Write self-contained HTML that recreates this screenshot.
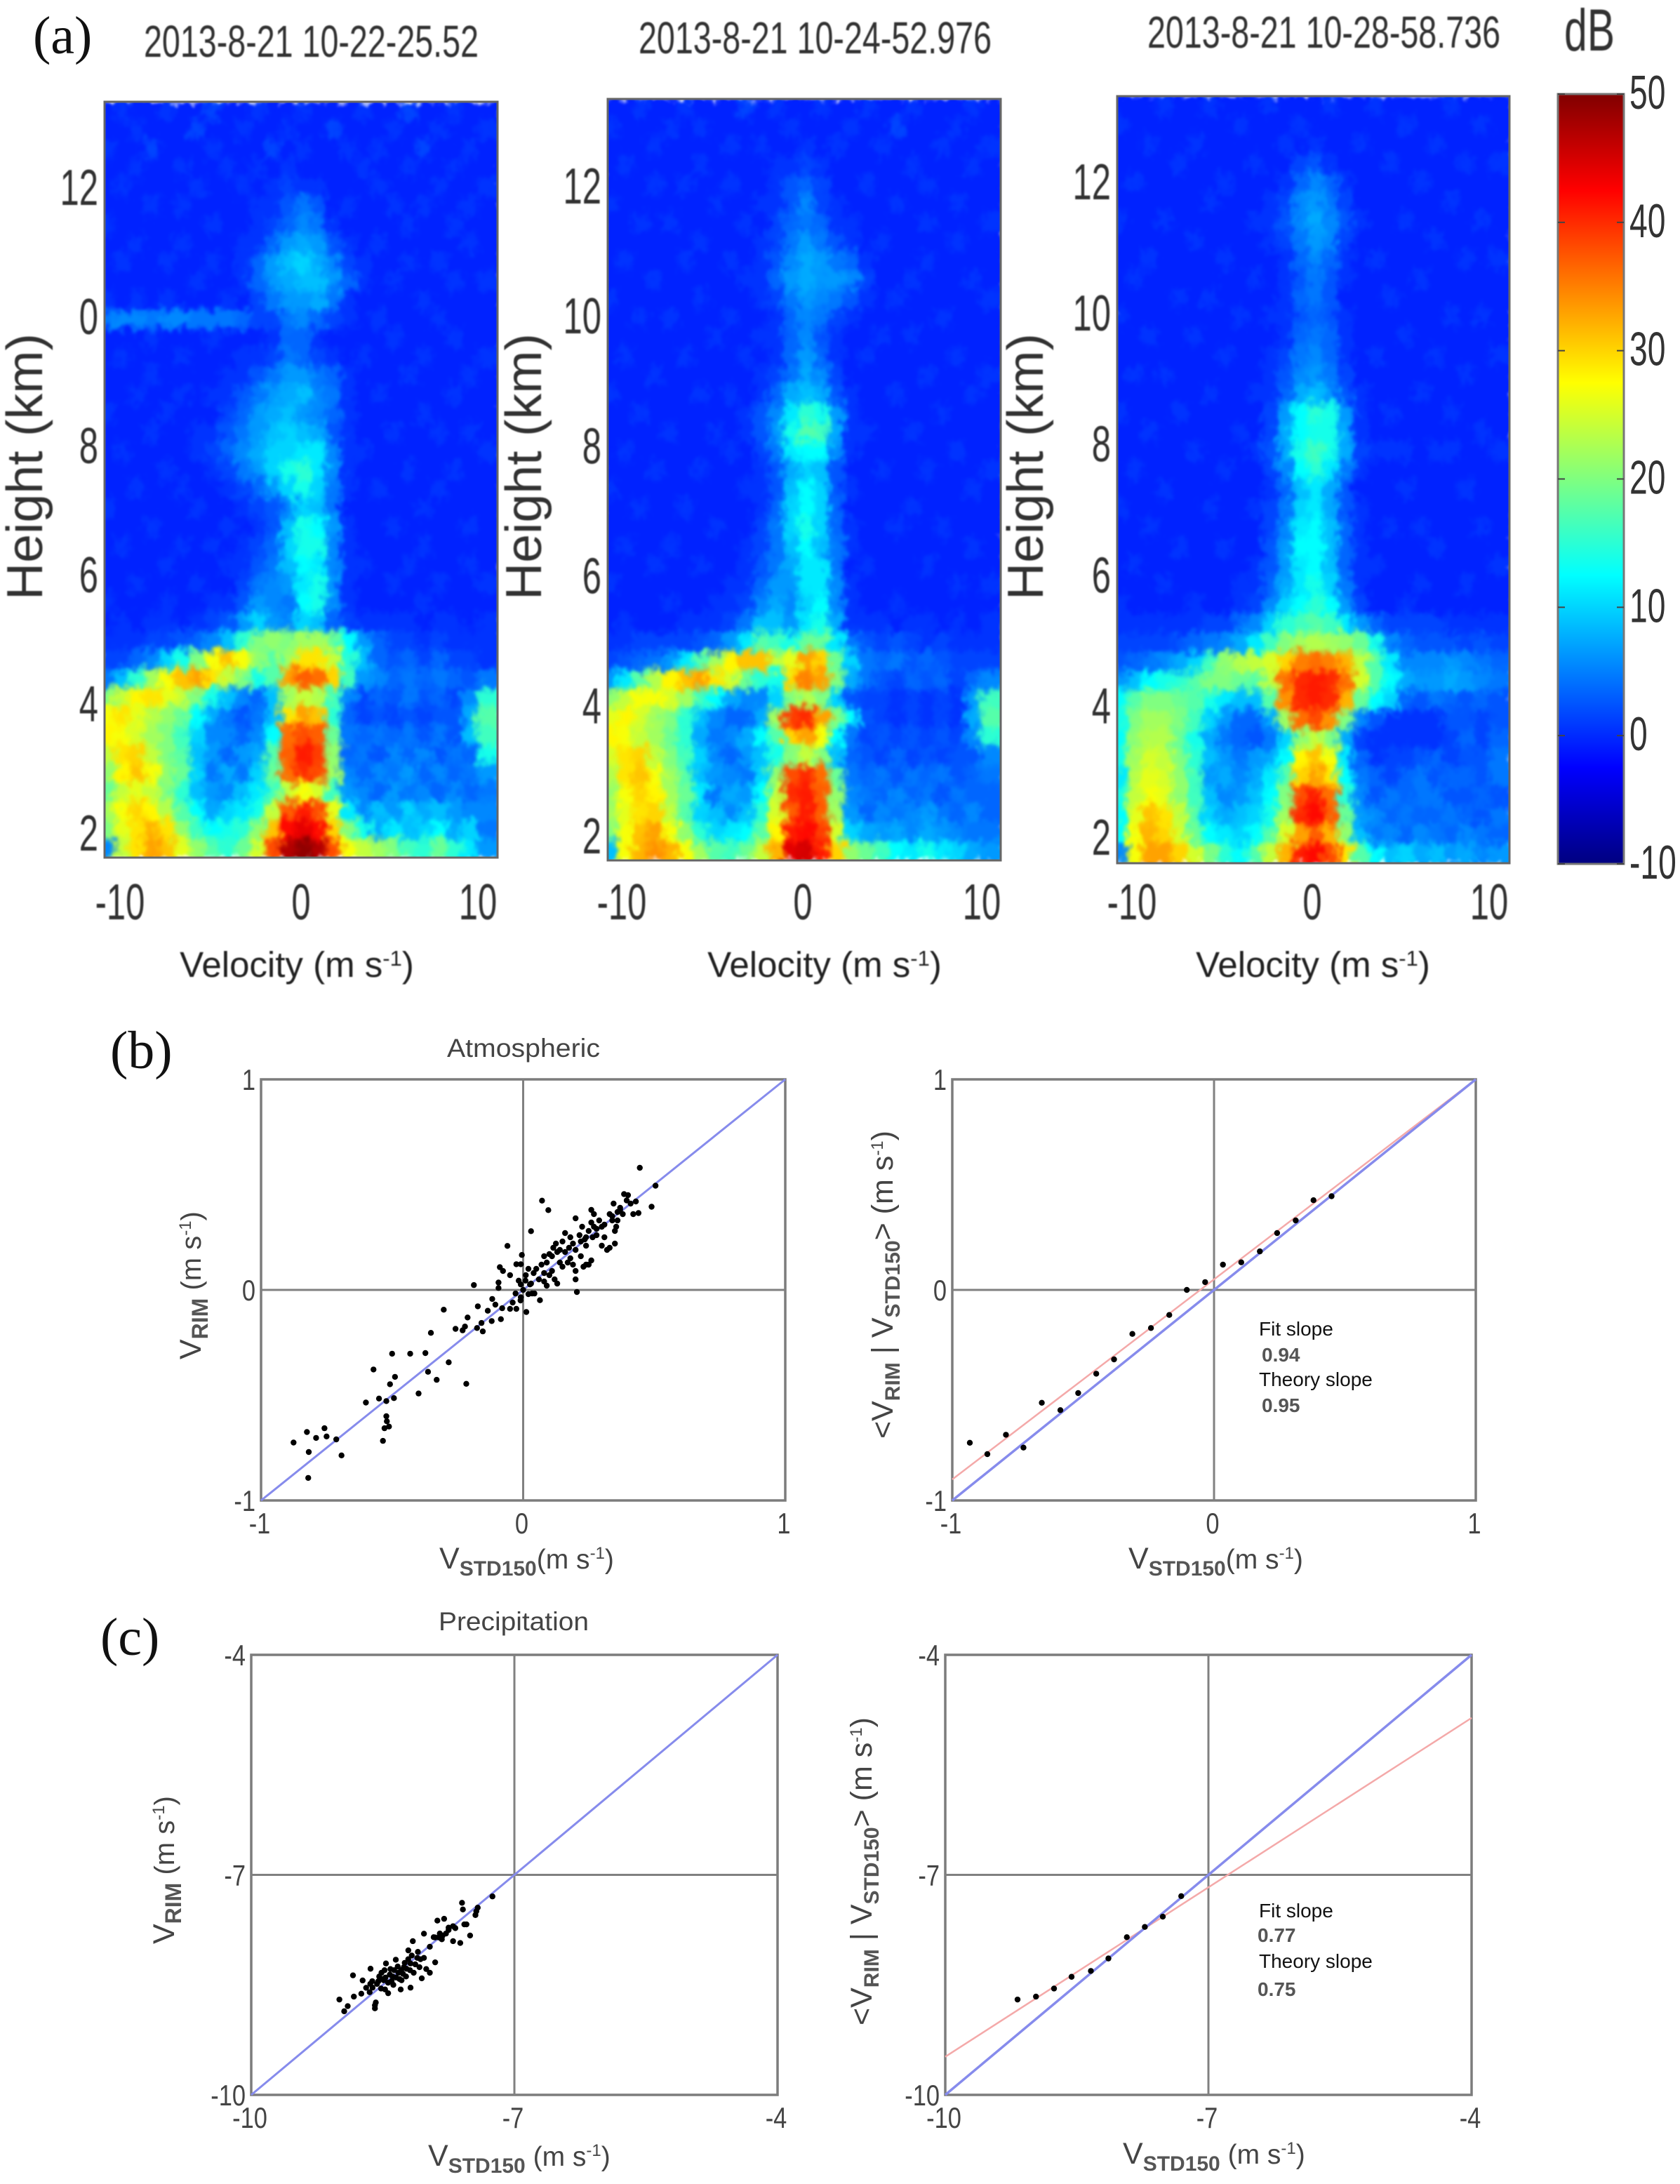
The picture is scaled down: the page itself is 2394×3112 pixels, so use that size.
<!DOCTYPE html>
<html lang="en">
<head>
<meta charset="utf-8">
<title>Radar spectra and velocity comparison</title>
<style>
html,body{margin:0;padding:0;background:#fff;}
svg{display:block;font-family:"Liberation Sans",sans-serif;}
</style>
</head>
<body>
<svg id="fig" xmlns="http://www.w3.org/2000/svg" width="2394" height="3112" viewBox="0 0 2394 3112">
  <defs>
    <filter id="soft" x="-5%" y="-5%" width="110%" height="110%" color-interpolation-filters="sRGB">
      <feGaussianBlur in="SourceGraphic" stdDeviation="4" result="b"/>
      <feTurbulence type="fractalNoise" baseFrequency="0.085 0.07" numOctaves="2" seed="7" result="n"/>
      <feDisplacementMap in="b" in2="n" scale="26" xChannelSelector="R" yChannelSelector="G" result="d"/>
      <feGaussianBlur in="d" stdDeviation="1.6"/>
    </filter>
    <filter id="textSoft" x="-5%" y="-20%" width="110%" height="140%"><feGaussianBlur stdDeviation="0.9"/></filter>
    <linearGradient id="jetGrad" x1="0" y1="1" x2="0" y2="0">
      <stop offset="0" stop-color="#000080"/>
      <stop offset="0.125" stop-color="#0000ff"/>
      <stop offset="0.375" stop-color="#00ffff"/>
      <stop offset="0.625" stop-color="#ffff00"/>
      <stop offset="0.875" stop-color="#ff0000"/>
      <stop offset="1" stop-color="#800000"/>
    </linearGradient>
  </defs>
  <rect width="2394" height="3112" fill="#fff"/>

  <g font-family="'Liberation Serif',serif" font-size="76" fill="#111">
    <text x="47" y="76">(a)</text>
    <text x="157" y="1522">(b)</text>
    <text x="143" y="2358">(c)</text>
  </g>

  <g filter="url(#textSoft)" fill="#333" font-size="64">
    <text x="205" y="81" textLength="477" lengthAdjust="spacingAndGlyphs">2013-8-21 10-22-25.52</text>
    <text x="910" y="76" textLength="503" lengthAdjust="spacingAndGlyphs">2013-8-21 10-24-52.976</text>
    <text x="1635" y="68" textLength="503" lengthAdjust="spacingAndGlyphs">2013-8-21 10-28-58.736</text>
    <text x="2229" y="72" font-size="84" textLength="72" lengthAdjust="spacingAndGlyphs">dB</text>
    <g font-size="72">
      <text transform="translate(60,855) rotate(-90)" textLength="380" lengthAdjust="spacingAndGlyphs">Height (km)</text>
      <text transform="translate(771,855) rotate(-90)" textLength="380" lengthAdjust="spacingAndGlyphs">Height (km)</text>
      <text transform="translate(1486,855) rotate(-90)" textLength="380" lengthAdjust="spacingAndGlyphs">Height (km)</text>
    </g>
    <g font-size="51" text-anchor="middle" fill="#222">
      <text x="423" y="1392">Velocity (m s<tspan dy="-16" font-size="31">-1</tspan><tspan dy="16">)</tspan></text>
      <text x="1175" y="1392">Velocity (m s<tspan dy="-16" font-size="31">-1</tspan><tspan dy="16">)</tspan></text>
      <text x="1871" y="1392">Velocity (m s<tspan dy="-16" font-size="31">-1</tspan><tspan dy="16">)</tspan></text>
    </g>
  </g>

  <rect x="2220" y="134" width="94" height="1097" fill="url(#jetGrad)" stroke="#777" stroke-width="3"/>

  <g id="heatmaps"></g>
  <g id="colorbarTicks"></g>
  <g id="scatters"></g>

  <g fill="#444">
    <text x="746" y="1506" font-size="37" text-anchor="middle" textLength="218" lengthAdjust="spacingAndGlyphs">Atmospheric</text>
    <text x="732" y="2323" font-size="37" text-anchor="middle" textLength="214" lengthAdjust="spacingAndGlyphs">Precipitation</text>

    <text x="626" y="2235" font-size="43">V<tspan font-size="30" dy="10" font-weight="bold" fill="#555">STD150</tspan><tspan font-size="39" dy="-10">(m s</tspan><tspan font-size="24" dy="-14">-1</tspan><tspan font-size="39" dy="14">)</tspan></text>
    <text x="1608" y="2235" font-size="43">V<tspan font-size="30" dy="10" font-weight="bold" fill="#555">STD150</tspan><tspan font-size="39" dy="-10">(m s</tspan><tspan font-size="24" dy="-14">-1</tspan><tspan font-size="39" dy="14">)</tspan></text>
    <text x="610" y="3086" font-size="43">V<tspan font-size="30" dy="10" font-weight="bold" fill="#555">STD150</tspan><tspan font-size="39" dy="-10"> (m s</tspan><tspan font-size="24" dy="-14">-1</tspan><tspan font-size="39" dy="14">)</tspan></text>
    <text x="1600" y="3083" font-size="43">V<tspan font-size="30" dy="10" font-weight="bold" fill="#555">STD150</tspan><tspan font-size="39" dy="-10"> (m s</tspan><tspan font-size="24" dy="-14">-1</tspan><tspan font-size="39" dy="14">)</tspan></text>

    <text transform="translate(286,1937) rotate(-90)" font-size="43">V<tspan font-size="32" dy="10" font-weight="bold" fill="#555">RIM</tspan><tspan font-size="40" dy="-10"> (m s</tspan><tspan font-size="24" dy="-14">-1</tspan><tspan font-size="40" dy="14">)</tspan></text>
    <text transform="translate(1272,2050) rotate(-90)" font-size="43">&lt;V<tspan font-size="30" dy="10" font-weight="bold" fill="#555">RIM</tspan><tspan dy="-10"> | V</tspan><tspan font-size="30" dy="10" font-weight="bold" fill="#555">STD150</tspan><tspan dy="-10">&gt; (m s</tspan><tspan font-size="24" dy="-14">-1</tspan><tspan dy="14">)</tspan></text>
    <text transform="translate(248,2770) rotate(-90)" font-size="43">V<tspan font-size="32" dy="10" font-weight="bold" fill="#555">RIM</tspan><tspan font-size="40" dy="-10">  (m s</tspan><tspan font-size="24" dy="-14">-1</tspan><tspan font-size="40" dy="14">)</tspan></text>
    <text transform="translate(1242,2886) rotate(-90)" font-size="43">&lt;V<tspan font-size="30" dy="10" font-weight="bold" fill="#555">RIM</tspan><tspan dy="-10"> | V</tspan><tspan font-size="30" dy="10" font-weight="bold" fill="#555">STD150</tspan><tspan dy="-10">&gt; (m s</tspan><tspan font-size="24" dy="-14">-1</tspan><tspan dy="14">)</tspan></text>

    <g font-size="28">
      <text x="1794" y="1903" fill="#111">Fit slope</text>
      <text x="1798" y="1940" fill="#555" font-weight="bold">0.94</text>
      <text x="1794" y="1975" fill="#111">Theory slope</text>
      <text x="1798" y="2012" fill="#555" font-weight="bold">0.95</text>
      <text x="1794" y="2732" fill="#111">Fit slope</text>
      <text x="1792" y="2767" fill="#555" font-weight="bold">0.77</text>
      <text x="1794" y="2804" fill="#111">Theory slope</text>
      <text x="1792" y="2844" fill="#555" font-weight="bold">0.75</text>
    </g>
  </g>
</svg>

<script>
const velocityTicks = [-10, 0, 10];
const heightTicks = [12, 10, 8, 6, 4, 2];
const heightTickLabels1 = ['12', '0', '8', '6', '4', '2'];
const heightTickLabels2 = ['12', '10', '8', '6', '4', '2'];
const colorbarTicks = [50, 40, 30, 20, 10, 0, -10];

const spectrum1 = [
[2,3,2,2,3,2,2,4,2,2,3,2,2,3,2,2,2,3,2,2,4,2,2,3,2,2],
[2,2,3,2,2,2,4,2,2,3,2,2,3,2,2,4,2,2,2,3,2,2,3,2,2,3],
[3,2,2,4,2,2,2,3,2,2,2,4,2,3,2,2,3,2,3,2,2,4,2,2,3,2],
[2,2,3,2,2,3,2,2,3,2,3,2,3,2,2,2,2,3,2,2,3,2,2,3,2,2],
[2,3,2,2,2,2,3,2,2,3,2,3,4,3,3,2,2,2,3,2,2,2,3,2,2,3],
[2,2,2,3,2,3,2,2,2,2,3,3,5,7,5,2,3,2,2,3,2,3,2,2,3,2],
[3,2,2,2,2,2,2,3,2,2,3,4,6,8,7,3,2,2,2,2,3,2,2,3,2,2],
[2,2,3,2,2,3,2,2,2,3,3,6,9,10,9,5,3,2,3,2,2,2,2,2,3,2],
[2,3,2,2,3,2,2,3,2,3,6,9,11,12,10,8,4,3,2,2,3,2,3,2,2,2],
[2,2,2,2,2,2,3,2,2,3,6,9,10,11,11,9,6,3,2,3,2,2,2,3,2,3],
[3,2,3,2,3,2,2,2,3,2,4,7,9,9,10,7,3,2,2,2,2,3,2,2,2,2],
[7,8,8,7,8,8,7,7,7,6,4,4,7,8,6,4,3,2,3,2,2,2,3,2,2,2],
[2,2,2,3,2,2,2,3,2,2,2,3,6,6,3,2,2,2,2,3,2,2,2,3,2,2],
[2,3,2,2,2,3,2,2,2,3,3,4,7,6,4,3,2,3,2,2,2,3,2,2,2,3],
[2,2,2,3,2,2,2,2,3,3,5,7,9,9,7,6,3,2,2,2,3,2,2,2,3,2],
[2,2,3,2,2,3,2,3,3,5,7,9,10,11,8,7,3,2,3,2,2,2,2,3,2,2],
[3,2,2,2,3,2,2,2,4,6,9,10,11,9,8,6,3,2,2,2,2,3,2,2,2,2],
[2,2,2,3,2,2,3,3,5,7,9,11,12,11,10,5,3,2,2,3,2,2,3,2,3,2],
[2,3,2,2,2,2,3,4,6,8,10,12,12,13,13,8,3,3,2,2,2,2,2,2,2,3],
[2,2,2,2,3,2,2,3,4,7,9,12,15,16,13,8,3,2,2,2,3,2,2,3,2,2],
[2,2,3,2,2,3,2,2,3,4,6,9,12,15,12,7,3,2,3,2,2,2,3,2,2,2],
[3,2,2,2,2,2,3,2,2,3,4,5,8,12,11,7,2,2,2,2,2,3,2,2,2,2],
[2,2,2,3,2,2,2,2,3,2,3,5,11,15,14,9,3,2,2,3,2,2,2,2,3,2],
[2,3,2,2,2,3,2,3,2,3,4,6,12,15,15,8,3,2,2,2,2,3,2,2,2,2],
[2,2,2,2,3,2,2,2,3,3,5,7,11,14,13,8,3,3,2,2,3,2,2,2,3,2],
[2,2,3,2,2,2,3,2,2,4,7,8,9,13,15,9,3,2,2,3,2,2,3,2,2,3],
[3,2,2,2,3,2,2,3,3,5,9,8,7,14,15,8,3,2,2,2,2,3,2,2,2,2],
[2,3,2,3,3,2,3,4,5,9,12,9,8,12,11,6,4,3,3,3,3,2,3,3,2,3],
[3,3,3,4,4,5,6,8,11,16,20,21,20,22,22,19,14,9,6,4,4,3,4,3,3,3],
[4,4,6,8,12,15,20,27,31,27,21,18,22,29,29,24,16,11,6,5,6,4,6,4,4,3],
[7,11,16,22,27,31,33,29,24,20,15,18,33,37,36,30,17,9,8,6,7,6,7,6,5,7],
[20,24,28,29,26,24,20,15,11,8,6,11,22,24,23,17,8,4,6,5,7,5,6,4,8,16],
[27,29,26,23,21,19,14,10,7,5,7,11,29,33,31,16,6,4,5,4,5,4,5,5,10,18],
[28,27,25,22,20,17,12,8,8,6,8,14,36,38,37,19,7,6,7,6,7,5,7,5,11,17],
[24,29,30,24,20,18,11,9,6,9,10,18,37,41,39,21,6,7,5,8,6,8,5,7,6,15],
[21,28,31,27,21,19,12,7,10,7,12,19,36,40,38,22,8,6,8,7,9,6,8,6,7,9],
[19,24,26,24,20,16,11,9,8,11,13,17,24,27,25,17,9,8,6,9,7,8,6,8,6,7],
[22,27,30,28,23,18,14,10,12,13,15,24,37,41,38,26,13,8,11,9,12,10,11,9,8,8],
[20,26,29,32,29,21,17,14,15,16,21,31,42,44,42,30,20,15,10,13,11,12,14,10,12,7],
[8,24,29,33,31,26,21,18,16,19,25,38,47,49,47,38,27,24,22,20,17,16,19,16,13,9]
];

const spectrum2 = [
[2,2,3,2,2,3,2,2,2,4,2,3,2,2,3,2,2,3,2,2,3,2,2,2,3,2],
[3,2,2,2,3,2,3,2,2,2,2,2,3,2,2,2,3,2,2,4,2,2,2,3,2,2],
[2,2,2,3,2,2,2,2,3,2,3,2,2,3,2,3,2,2,3,2,2,2,3,2,2,3],
[2,3,2,2,2,2,3,2,2,2,2,3,3,4,3,2,2,2,2,2,3,2,2,2,3,2],
[2,2,2,3,2,3,2,2,3,2,2,3,5,6,4,2,2,3,2,2,2,3,2,2,2,2],
[3,2,2,2,2,2,2,3,2,2,3,3,5,8,4,3,2,2,2,3,2,2,2,3,2,2],
[2,2,3,2,3,2,2,2,2,3,2,4,6,7,6,3,3,2,2,2,2,3,2,2,2,3],
[2,2,2,2,2,2,3,2,2,2,3,4,7,9,7,5,3,2,3,2,2,2,2,3,2,2],
[2,3,2,2,2,3,2,2,3,2,3,5,8,10,9,7,6,3,2,2,2,3,2,2,2,2],
[2,2,2,3,2,2,2,2,2,3,3,6,9,10,9,9,8,4,2,2,3,2,2,2,3,2],
[3,2,2,2,2,2,3,2,2,2,3,4,7,9,8,7,5,3,2,3,2,2,2,2,2,3],
[2,2,3,2,3,2,2,2,3,2,2,3,6,8,7,4,3,2,2,2,2,2,3,2,2,2],
[2,2,2,2,2,2,2,3,2,2,3,3,6,8,5,3,2,2,3,2,3,2,2,2,2,2],
[2,3,2,2,2,3,2,2,2,3,2,3,6,9,6,3,2,3,2,2,2,2,2,3,2,2],
[2,2,2,3,2,2,2,2,2,2,3,4,7,10,8,4,2,2,2,2,2,3,2,2,2,3],
[3,2,2,2,2,2,3,2,3,2,3,6,10,11,10,5,3,2,2,3,2,2,2,2,3,2],
[2,2,3,2,2,2,2,2,2,3,5,8,13,16,15,9,3,2,2,2,2,2,3,2,2,2],
[2,2,2,2,3,2,2,3,2,3,5,9,15,18,17,10,3,3,2,2,3,2,2,2,2,2],
[2,3,2,2,2,2,2,2,3,2,4,7,13,14,14,8,3,2,2,2,2,2,2,3,2,2],
[2,2,2,3,2,2,3,2,2,2,3,5,10,12,11,5,2,2,3,2,2,3,2,2,2,3],
[3,2,2,2,2,2,2,2,2,3,3,5,11,14,12,5,3,2,2,2,2,2,2,2,3,2],
[2,2,3,2,2,3,2,2,2,2,3,6,12,14,12,6,2,2,2,2,3,2,2,2,2,2],
[2,2,2,2,2,2,2,3,2,2,4,7,12,15,12,6,3,2,2,3,2,2,3,2,2,2],
[2,3,2,2,3,2,2,2,2,3,4,7,11,14,11,7,3,2,2,2,2,2,2,2,3,2],
[2,2,2,3,2,2,3,2,2,3,5,7,10,13,13,7,2,3,2,2,2,3,2,2,2,2],
[3,2,2,2,2,2,2,2,3,3,6,9,9,13,13,8,3,2,2,2,2,2,2,3,2,3],
[2,2,2,2,3,2,2,3,3,4,8,10,8,12,14,8,3,2,2,3,2,2,2,2,2,2],
[2,3,2,2,2,3,3,3,4,7,11,11,9,13,15,10,3,3,3,2,3,3,2,3,2,3],
[3,3,4,4,4,4,5,6,9,13,18,17,15,19,19,13,7,5,4,5,4,3,4,3,3,3],
[4,5,6,7,9,13,18,22,28,31,31,24,26,33,30,19,12,7,6,7,5,6,5,4,4,4],
[9,13,18,23,28,31,33,29,25,19,16,15,30,35,33,20,10,7,5,4,6,5,6,4,6,8],
[21,24,27,27,25,22,17,14,10,8,8,12,20,23,20,12,5,4,4,3,4,3,4,3,9,17],
[26,28,25,22,20,16,11,8,6,6,10,22,39,40,33,20,14,5,4,3,4,3,4,3,10,18],
[28,27,24,22,19,16,10,7,8,10,14,18,30,33,27,14,7,4,5,4,5,4,5,4,8,16],
[25,29,30,24,20,17,12,8,6,9,11,15,20,24,20,11,6,5,4,6,4,5,4,5,5,8],
[23,29,31,27,22,18,11,9,8,7,12,21,38,40,36,19,7,6,7,5,7,6,7,5,6,7],
[21,27,30,28,22,19,13,7,10,9,14,24,40,41,37,21,8,7,6,8,6,7,5,7,6,6],
[22,26,29,30,24,18,12,11,8,11,16,25,37,41,37,22,9,6,8,7,8,9,7,6,8,6],
[20,27,31,33,27,21,16,12,13,14,18,28,41,42,39,25,12,10,9,10,8,10,9,8,7,7],
[11,27,32,34,32,27,22,18,17,19,24,32,44,45,41,30,21,19,17,14,13,15,13,12,10,9]
];

const spectrum3 = [
[2,2,2,3,2,2,3,2,2,2,3,2,2,2,3,2,2,3,2,2,2,2,3,2,2,2],
[3,2,2,2,2,2,2,2,3,2,2,2,3,2,2,2,2,2,2,3,2,2,2,2,3,2],
[2,2,3,2,2,3,2,2,2,2,2,3,2,3,2,2,3,2,2,2,2,3,2,2,2,2],
[2,2,2,2,3,2,2,2,2,3,2,2,4,5,3,2,2,2,3,2,2,2,2,3,2,3],
[2,3,2,2,2,2,2,3,2,2,2,3,6,8,6,3,2,2,2,2,3,2,2,2,2,2],
[2,2,2,2,2,2,3,2,2,2,3,4,8,9,7,4,2,2,2,2,2,2,3,2,2,2],
[3,2,2,3,2,2,2,2,2,3,3,5,8,10,8,5,3,2,2,3,2,2,2,2,3,2],
[2,2,2,2,2,3,2,2,2,2,3,4,7,9,8,4,2,2,2,2,2,3,2,2,2,2],
[2,2,3,2,2,2,2,3,2,2,2,3,6,8,6,3,2,3,2,2,2,2,2,3,2,3],
[2,3,2,2,2,2,2,2,2,3,2,3,5,7,5,3,2,2,2,2,3,2,2,2,2,2],
[2,2,2,2,3,2,3,2,2,2,2,3,6,7,5,2,2,2,3,2,2,2,2,2,2,2],
[3,2,2,2,2,2,2,2,3,2,3,3,5,6,5,3,2,2,2,2,2,2,3,2,3,2],
[2,2,3,2,2,3,2,2,2,2,2,3,6,7,6,3,2,2,2,3,2,2,2,2,2,2],
[2,2,2,2,2,2,2,3,2,2,3,4,7,8,6,3,2,3,2,2,2,3,2,2,2,3],
[2,3,2,3,2,2,2,2,2,2,3,5,8,9,7,4,2,2,2,2,2,2,2,3,2,2],
[2,2,2,2,2,2,3,2,2,3,3,6,10,11,9,5,3,2,2,2,3,2,2,2,2,2],
[3,2,2,2,3,2,2,2,2,2,4,9,14,16,15,9,3,2,3,2,2,2,3,2,2,2],
[2,2,3,2,2,2,2,2,3,2,4,10,14,15,15,10,3,2,2,2,2,2,2,2,3,2],
[2,2,2,2,2,3,2,2,2,3,5,10,15,17,15,10,4,3,3,3,2,3,3,2,2,3],
[2,3,2,2,2,2,2,3,2,2,4,8,14,16,13,7,3,2,2,2,2,2,2,2,2,2],
[2,2,2,3,2,2,2,2,2,2,3,6,11,13,10,5,2,2,2,3,2,2,2,3,2,2],
[3,2,2,2,2,2,3,2,2,3,4,7,12,13,10,5,3,2,2,2,2,2,2,2,2,2],
[2,2,3,2,2,2,2,2,2,2,4,8,13,14,11,6,3,2,3,2,3,2,2,2,3,2],
[2,2,2,2,3,2,2,3,2,2,5,9,14,14,11,6,3,2,2,2,2,3,2,2,2,2],
[2,3,2,2,2,2,2,2,2,3,5,9,13,14,11,6,3,3,2,2,2,2,2,2,2,3],
[2,2,2,3,2,2,2,2,3,3,6,10,13,15,12,7,3,2,2,2,3,2,2,3,2,2],
[3,2,2,2,2,3,2,2,3,4,8,12,14,16,14,9,4,2,2,3,2,2,2,2,2,2],
[3,3,3,3,3,3,4,4,6,8,12,16,17,18,17,13,9,6,4,4,4,4,3,3,3,3],
[4,4,4,4,5,6,7,8,10,13,17,20,22,23,22,21,19,15,8,6,5,5,5,4,5,4],
[5,6,7,8,10,12,17,21,23,24,25,30,35,36,35,32,24,18,13,8,8,8,9,8,7,6],
[9,11,14,15,16,18,20,20,19,18,24,36,40,41,40,36,25,18,14,10,9,9,10,9,8,7],
[14,18,20,20,19,18,15,13,11,11,18,34,40,41,40,32,19,14,12,6,5,7,6,5,6,5],
[15,20,22,22,20,17,12,9,6,6,10,22,36,38,34,20,8,5,3,3,3,3,5,5,4,5],
[14,21,23,23,19,15,10,7,6,5,7,12,21,24,20,10,4,3,3,3,3,3,4,6,4,6],
[15,22,25,24,20,16,11,9,7,9,10,14,28,31,27,13,6,3,4,4,5,6,4,5,5,7],
[13,23,26,25,21,17,9,10,8,10,13,18,30,33,29,14,7,6,4,6,7,5,6,6,5,7],
[15,24,27,26,21,17,11,8,9,11,14,20,38,41,36,16,8,5,7,6,7,7,5,5,6,5],
[14,26,31,29,24,18,12,10,11,12,15,22,40,42,37,19,9,8,6,7,6,6,7,6,5,7],
[14,27,32,30,25,19,14,13,12,14,18,25,33,37,32,21,11,7,8,6,8,7,6,8,7,6],
[8,27,33,33,30,25,20,16,14,18,24,32,41,42,38,29,18,14,11,12,10,11,9,10,8,9]
];

const atmosPoints = [
[-0.876,-0.725],[-0.825,-0.675],[-0.818,-0.77],[-0.82,-0.893],[-0.79,-0.703],[-0.758,-0.657],[-0.75,-0.696],[-0.713,-0.71],[-0.693,-0.786],[-0.6,-0.535],[-0.55,-0.516],[-0.522,-0.528],[-0.493,-0.514],[-0.571,-0.378],[-0.489,-0.413],[-0.508,-0.448],[-0.5,-0.303],[-0.431,-0.303],[-0.373,-0.3],[-0.363,-0.389],[-0.33,-0.427],[-0.284,-0.344],[-0.217,-0.446],[-0.399,-0.492],[-0.522,-0.6],[-0.52,-0.624],[-0.529,-0.657],[-0.512,-0.649],[-0.535,-0.717],
[-0.352,-0.204],[-0.303,-0.094],[-0.258,-0.185],[-0.231,-0.192],[-0.222,-0.174],[-0.212,-0.131],[-0.188,0.023],[-0.173,-0.078],[-0.176,-0.181],[-0.154,-0.197],[-0.159,-0.157],[-0.135,-0.099],[-0.12,-0.148],[-0.118,-0.043],[-0.106,-0.07],[-0.085,-0.139],[-0.094,0.035],[-0.094,0.009],[-0.08,-0.087],[-0.06,0.209],[-0.05,-0.09],[-0.026,-0.09],[0.012,-0.105],[-0.089,0.108],[-0.077,0.09],[-0.05,0.07],[-0.026,0.122],[-0.005,0.166],[-0.009,0.122],[-0.017,0.044],[-0.009,0.026],[-0.029,-0.017],[-0.009,-0.035],[0,0],[0.009,0.044],[0.026,0.026],[0.034,-0.017],[0.064,-0.049],[0.043,-0.017],[0.03,0.279],[0.072,0.424],[0.096,0.379],
[0.08,0.16],[0.1,0.17],[0.11,0.16],[0.09,0.13],[0.07,0.12],[0.05,0.1],[0.06,0.05],[0.08,0.04],[0.09,0.02],[0.1,0.07],[0.11,0.09],[0.12,0.05],[0.13,0.03],[0.115,0.2],[0.125,0.22],[0.14,0.13],[0.15,0.11],[0.16,0.18],[0.17,0.13],[0.175,0.2],[0.18,0.15],[0.19,0.12],[0.2,0.09],[0.205,-0.01],[0.2,0.05],[0.16,0.27],[0.18,0.25],[0.19,0.22],[0.2,0.19],[0.22,0.16],[0.23,0.11],[0.24,0.12],[0.25,0.12],[0.26,0.14],[0.2,0.34],[0.215,0.26],[0.225,0.3],[0.235,0.24],[0.24,0.21],[0.25,0.28],[0.26,0.32],[0.265,0.25],[0.27,0.3],[0.28,0.26],[0.29,0.33],[0.27,0.36],[0.26,0.38],[0.3,0.21],[0.31,0.25],[0.32,0.19],[0.33,0.2],[0.35,0.22],[0.35,0.28],[0.355,0.3],[0.34,0.33],[0.33,0.36],[0.34,0.35],[0.36,0.33],[0.36,0.37],[0.345,0.41],[0.37,0.38],[0.38,0.36],[0.37,0.39],[0.4,0.45],[0.385,0.455],[0.41,0.41],[0.395,0.425],[0.42,0.36],[0.43,0.42],[0.44,0.365],[0.445,0.58],[0.49,0.395],[0.505,0.495],[0.15,0.23],[0.08,0.08],[0.03,0.03],[0.01,0.07],[0.02,0.1],[0.04,0.08],[0.14,0.19],[0.13,0.18],[0.3,0.3],[0.31,0.31],[0.28,0.29],[0.24,0.25],[0.22,0.23],[0.02,-0.02],[-0.04,-0.06],[-0.01,-0.05]
];

const atmosBinned = [
[-0.933,-0.726],[-0.866,-0.78],[-0.795,-0.688],[-0.728,-0.749],[-0.658,-0.536],[-0.587,-0.571],[-0.519,-0.49],[-0.45,-0.398],[-0.382,-0.33],[-0.312,-0.209],[-0.241,-0.181],[-0.171,-0.119],[-0.104,0],[-0.034,0.037],[0.034,0.12],[0.104,0.131],[0.175,0.183],[0.241,0.27],[0.312,0.33],[0.38,0.426],[0.449,0.445]
];

const precipPoints = [
[-8.995,-8.7],[-8.9,-8.79],[-8.94,-8.86],[-8.84,-8.37],[-8.83,-8.66],[-8.73,-8.44],[-8.745,-8.62],[-8.69,-8.54],[-8.64,-8.28],[-8.58,-8.74],[-8.59,-8.82],[-8.59,-8.78],[-8.643,-8.487],[-8.617,-8.538],[-8.566,-8.487],[-8.541,-8.386],[-8.515,-8.335],[-8.49,-8.437],[-8.474,-8.563],[-8.439,-8.614],[-8.464,-8.208],[-8.413,-8.284],[-8.388,-8.386],[-8.352,-8.157],[-8.321,-8.335],[-8.296,-8.563],[-8.286,-8.437],[-8.26,-8.259],[-8.235,-8.386],[-8.209,-8.03],[-8.184,-8.208],[-8.184,-8.538],[-8.158,-7.904],[-8.148,-8.335],[-8.107,-8.132],[-8.082,-8.259],[-8.056,-8.411],[-8.031,-8.132],[-8.005,-8.284],[-7.964,-8.335],[-7.903,-8.193],[-8.031,-7.802],[-7.964,-7.98],[-7.903,-7.853],[-7.878,-7.624],[-7.862,-7.853],[-7.801,-7.599],[-7.827,-7.878],[-7.75,-7.751],[-7.699,-7.7],[-7.699,-7.904],[-7.617,-7.929],[-7.673,-7.726],[-7.571,-7.675],[-7.505,-7.827],[-7.597,-7.381],[-7.587,-7.472],[-7.546,-7.675],[-7.444,-7.548],[-7.418,-7.447],[-7.434,-7.497],[-7.25,-7.294],
[-8.55,-8.45],[-8.5,-8.42],[-8.47,-8.4],[-8.44,-8.47],[-8.42,-8.36],[-8.4,-8.45],[-8.37,-8.3],[-8.35,-8.4],[-8.33,-8.25],[-8.31,-8.42],[-8.29,-8.3],[-8.27,-8.35],[-8.25,-8.2],[-8.23,-8.28],[-8.21,-8.15],[-8.19,-8.3],[-8.17,-8.1],[-8.13,-8.22],[-8.1,-8.05],[-8.07,-8.15],[-8.65,-8.6],[-8.62,-8.45],[-8.52,-8.55],[-8.48,-8.3],[-8.38,-8.5],[-7.85,-7.8],[-7.82,-7.83],[-7.78,-7.8],[-7.92,-7.85],[-7.75,-7.72]
];

const precipBinned = [
[-9.176,-8.7],[-8.966,-8.66],[-8.76,-8.55],[-8.56,-8.39],[-8.34,-8.31],[-8.14,-8.14],[-7.93,-7.85],[-7.725,-7.71],[-7.52,-7.57],[-7.31,-7.29]
];

const atmosTicks = [-1, 0, 1];
const precipTicks = [-10, -7, -4];
const atmosIdentityLine = [[-1,-1],[1,1]];
const atmosFitLine = [[-1,-0.9],[1,1]];
const precipIdentityLine = [[-10,-10],[-4,-4]];
const precipFitLine = [[-10,-9.48],[-4,-4.86]];

const SVGNS = 'http://www.w3.org/2000/svg';

function jet(db) {
  const lift = db < 10 ? 2.5 : db < 20 ? 2.5 * (20 - db) / 10 : 0;
  const t = Math.max(0, Math.min(1, (db - lift + 10) / 60));
  const ch = c => Math.round(255 * Math.max(0, Math.min(1, 1.5 - Math.abs(4 * t - c))));
  return 'rgb(' + ch(3) + ',' + ch(2) + ',' + ch(1) + ')';
}

function addLabel(parent, name, x, y, str, size, sx, anchor, fill) {
  const t = document.createElementNS(SVGNS, 'text');
  
  
  t.setAttribute('transform', 'translate(' + x + ',' + y + ') scale(' + sx + ',1)');
  t.setAttribute('font-size', size);
  t.setAttribute('text-anchor', anchor);
  t.setAttribute('fill', fill);
  t.textContent = str;
  parent.appendChild(t);
  return t;
}

function drawSpectrum(root, id, matrix, box, xAxis, yAxis, yLabels) {
  const g = document.createElementNS(SVGNS, 'g');
  
  
  root.appendChild(g);

  const clip = document.createElementNS(SVGNS, 'clipPath');
  clip.setAttribute('id', 'clip' + id);
  const cr = document.createElementNS(SVGNS, 'rect');
  cr.setAttribute('x', box.x0);
  cr.setAttribute('y', box.y0);
  cr.setAttribute('width', box.x1 - box.x0);
  cr.setAttribute('height', box.y1 - box.y0);
  clip.appendChild(cr);
  g.appendChild(clip);

  const wrap = document.createElementNS(SVGNS, 'g');
  wrap.setAttribute('clip-path', 'url(#clip' + id + ')');
  g.appendChild(wrap);

  const cells = document.createElementNS(SVGNS, 'g');
  cells.setAttribute('id', 'cells' + id);
  const rows = matrix.length;
  const cols = matrix[0].length;
  const cw = (box.x1 - box.x0) / cols;
  const ch = (box.y1 - box.y0) / rows;
  const shift = 8;
  matrix.forEach((row, r) => {
    row.forEach((db, c) => {
      const cell = document.createElementNS(SVGNS, 'rect');
      
      
      cell.setAttribute('x', box.x0 + c * cw - shift);
      cell.setAttribute('y', box.y0 + r * ch);
      cell.setAttribute('width', cw + 0.6 + (c === cols - 1 ? shift + 4 : 0));
      cell.setAttribute('height', ch + 0.6);
      cell.setAttribute('fill', jet(db));
      cells.appendChild(cell);
    });
  });
  const under = document.createElementNS(SVGNS, 'use');
  under.setAttribute('href', '#cells' + id);
  wrap.appendChild(under);
  cells.setAttribute('filter', 'url(#soft)');
  wrap.appendChild(cells);

  const frame = document.createElementNS(SVGNS, 'rect');
  
  
  frame.setAttribute('x', box.x0);
  frame.setAttribute('y', box.y0);
  frame.setAttribute('width', box.x1 - box.x0);
  frame.setAttribute('height', box.y1 - box.y0);
  frame.setAttribute('fill', 'none');
  frame.setAttribute('stroke', '#666');
  frame.setAttribute('stroke-width', 3);
  g.appendChild(frame);

  const labels = document.createElementNS(SVGNS, 'g');
  labels.setAttribute('filter', 'url(#textSoft)');
  g.appendChild(labels);
  velocityTicks.forEach(v => {
    addLabel(labels, 'velocity-tick', xAxis(v), 1310, String(v), 72, 0.68, 'middle', '#333');
  });
  heightTicks.forEach((km, i) => {
    addLabel(labels, 'height-tick', box.x0 - 9, yAxis(km) + 26, yLabels[i], 72, 0.68, 'end', '#333');
  });
}

function km(panelTop12, panelBottom2) {
  return v => panelBottom2 + (v - 2) * (panelTop12 - panelBottom2) / 10;
}
function vel(left, zero, right) {
  return v => v < 0 ? zero + v * (zero - left) / 10 : zero + v * (right - zero) / 10;
}

const heatRoot = document.getElementById('heatmaps');
drawSpectrum(heatRoot, 1, spectrum1, {x0:149,x1:709,y0:145,y1:1222}, vel(171,429,681), km(266,1186), heightTickLabels1);
drawSpectrum(heatRoot, 2, spectrum2, {x0:866,x1:1426,y0:141,y1:1226}, vel(886,1144,1399), km(264,1190), heightTickLabels2);
drawSpectrum(heatRoot, 3, spectrum3, {x0:1592,x1:2151,y0:137,y1:1230}, vel(1613,1870,2122), km(258,1192), heightTickLabels2);

const cbRoot = document.getElementById('colorbarTicks');
const cbY = db => 134 + (50 - db) * (1231 - 134) / 60;
colorbarTicks.forEach(db => {
  const y = cbY(db);
  const tl = document.createElementNS(SVGNS, 'line');
  
  
  tl.setAttribute('x1', 2220);
  tl.setAttribute('x2', 2230);
  tl.setAttribute('y1', y);
  tl.setAttribute('y2', y);
  tl.setAttribute('stroke', '#444');
  tl.setAttribute('stroke-width', 2);
  cbRoot.appendChild(tl);
  const tr = document.createElementNS(SVGNS, 'line');
  
  
  tr.setAttribute('x1', 2304);
  tr.setAttribute('x2', 2314);
  tr.setAttribute('y1', y);
  tr.setAttribute('y2', y);
  tr.setAttribute('stroke', '#444');
  tr.setAttribute('stroke-width', 2);
  cbRoot.appendChild(tr);
  addLabel(cbRoot, 'colorbar-tick-label', 2322, y + 21, String(db), 68, 0.68, 'start', '#333');
});

function drawScatter(root, id, box, domain, ticks, points, identity, fit) {
  const g = document.createElementNS(SVGNS, 'g');
  
  
  root.appendChild(g);
  const sx = v => box.x0 + (v - domain[0]) / (domain[1] - domain[0]) * (box.x1 - box.x0);
  const sy = v => box.y1 - (v - domain[0]) / (domain[1] - domain[0]) * (box.y1 - box.y0);

  const frame = document.createElementNS(SVGNS, 'rect');
  
  
  frame.setAttribute('x', box.x0);
  frame.setAttribute('y', box.y0);
  frame.setAttribute('width', box.x1 - box.x0);
  frame.setAttribute('height', box.y1 - box.y0);
  frame.setAttribute('fill', '#fff');
  frame.setAttribute('stroke', '#7c7c7c');
  frame.setAttribute('stroke-width', 3.5);
  g.appendChild(frame);

  const mid = ticks[1];
  const vLine = document.createElementNS(SVGNS, 'line');
  
  
  vLine.setAttribute('x1', sx(mid));
  vLine.setAttribute('x2', sx(mid));
  vLine.setAttribute('y1', box.y0);
  vLine.setAttribute('y2', box.y1);
  vLine.setAttribute('stroke', '#808080');
  vLine.setAttribute('stroke-width', 3);
  g.appendChild(vLine);
  const hLine = document.createElementNS(SVGNS, 'line');
  
  
  hLine.setAttribute('x1', box.x0);
  hLine.setAttribute('x2', box.x1);
  hLine.setAttribute('y1', sy(mid));
  hLine.setAttribute('y2', sy(mid));
  hLine.setAttribute('stroke', '#808080');
  hLine.setAttribute('stroke-width', 3);
  g.appendChild(hLine);

  if (fit) {
    const red = document.createElementNS(SVGNS, 'line');
    
    
    red.setAttribute('x1', sx(fit[0][0]));
    red.setAttribute('y1', sy(fit[0][1]));
    red.setAttribute('x2', sx(fit[1][0]));
    red.setAttribute('y2', sy(fit[1][1]));
    red.setAttribute('stroke', '#f4a9a9');
    red.setAttribute('stroke-width', 2.5);
    g.appendChild(red);
  }
  const blue = document.createElementNS(SVGNS, 'line');
  
  
  blue.setAttribute('x1', sx(identity[0][0]));
  blue.setAttribute('y1', sy(identity[0][1]));
  blue.setAttribute('x2', sx(identity[1][0]));
  blue.setAttribute('y2', sy(identity[1][1]));
  blue.setAttribute('stroke', '#868bec');
  blue.setAttribute('stroke-width', fit ? 3.5 : 3);
  g.appendChild(blue);

  points.forEach(p => {
    const dot = document.createElementNS(SVGNS, 'circle');
    
    
    dot.setAttribute('cx', sx(p[0]));
    dot.setAttribute('cy', sy(p[1]));
    dot.setAttribute('r', 4.2);
    dot.setAttribute('fill', '#000');
    g.appendChild(dot);
  });

  ticks.forEach(t => {
    addLabel(g, 'x-tick-label', sx(t) - 2, box.y1 + 47, String(t), 42, 0.82, 'middle', '#444');
    addLabel(g, 'y-tick-label', box.x0 - 8, sy(t) + 15, String(t), 42, 0.82, 'end', '#444');
  });
}

const scatRoot = document.getElementById('scatters');
drawScatter(scatRoot, 'b-left', {x0:372,x1:1119,y0:1538,y1:2138}, [-1,1], atmosTicks, atmosPoints, atmosIdentityLine, null);
drawScatter(scatRoot, 'b-right', {x0:1357,x1:2103,y0:1538,y1:2138}, [-1,1], atmosTicks, atmosBinned, atmosIdentityLine, atmosFitLine);
drawScatter(scatRoot, 'c-left', {x0:358,x1:1108,y0:2358,y1:2985}, [-10,-4], precipTicks, precipPoints, precipIdentityLine, null);
drawScatter(scatRoot, 'c-right', {x0:1347,x1:2097,y0:2358,y1:2985}, [-10,-4], precipTicks, precipBinned, precipIdentityLine, precipFitLine);
</script>
</body>
</html>
